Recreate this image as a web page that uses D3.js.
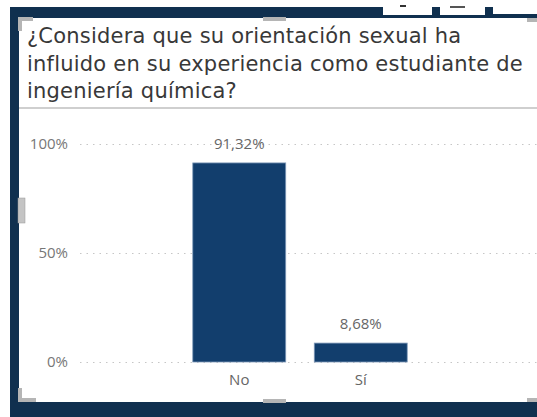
<!DOCTYPE html>
<html><head><meta charset="utf-8">
<script src="https://cdn.jsdelivr.net/npm/d3@7"></script>
<style>html,body{margin:0;padding:0;background:#fff;overflow:hidden}</style>
</head><body>
<svg id="c" width="537" height="417"></svg>
<script>
const titleLines = ["¿Considera que su orientación sexual ha", "influido en su experiencia como estudiante de", "ingeniería química?"];
const categories = ["No", "Sí"];
const values = [91.32, 8.68];
const valueLabels = ["91,32%", "8,68%"];
const yTicks = [0, 50, 100];
const yTickLabels = ["0%", "50%", "100%"];

const svg = d3.select("#c");
// background frame
svg.append("rect").attr("x",0).attr("y",0).attr("width",537).attr("height",417).attr("fill","#fff");
svg.append("rect").attr("x",10).attr("y",7).attr("width",527).attr("height",410).attr("fill","#10304f");
// top-right white toolbar pieces
svg.append("rect").attr("x",383).attr("y",0).attr("width",49).attr("height",15).attr("fill","#fff");
svg.append("rect").attr("x",440).attr("y",0).attr("width",45).attr("height",15).attr("fill","#fff");
svg.append("rect").attr("x",493).attr("y",0).attr("width",44).attr("height",14).attr("fill","#fff");
svg.append("rect").attr("x",400).attr("y",5).attr("width",6).attr("height",2).attr("fill","#333");
svg.append("rect").attr("x",450).attr("y",6).attr("width",15).attr("height",2).attr("fill","#555");
// panel
svg.append("rect").attr("x",19).attr("y",18).attr("width",518).attr("height",384).attr("fill","#fff");
// corner brackets / handles
svg.append("path").attr("d","M20,31 V19 H33").attr("fill","none").attr("stroke","#b5b5b5").attr("stroke-width",4);
svg.append("path").attr("d","M20,388 V400 H36").attr("fill","none").attr("stroke","#b5b5b5").attr("stroke-width",4);
svg.append("rect").attr("x",263).attr("y",17).attr("width",23).attr("height",4).attr("fill","#b5b5b5");
svg.append("rect").attr("x",263).attr("y",399).attr("width",23).attr("height",4).attr("fill","#b5b5b5");
svg.append("rect").attr("x",18).attr("y",198).attr("width",7).attr("height",25).attr("fill","#c4c4c4").attr("stroke","#999").attr("stroke-width",0.5);
svg.append("rect").attr("x",527).attr("y",18).attr("width",10).attr("height",4).attr("fill","#b5b5b5");
svg.append("rect").attr("x",527).attr("y",398).attr("width",10).attr("height",4).attr("fill","#b5b5b5");

// title
const title = svg.append("text").attr("fill","#383838")
  .style("font-family","'DejaVu Sans',sans-serif").style("font-size","21px");
const spans = titleLines.map((t,i)=>
  title.append("tspan").attr("x",27).attr("y",43+i*27.5).text(t));
// fit the longest line to the reference width
const w = spans[1].node().getComputedTextLength();
const ls = (496 - w) / titleLines[1].length;
title.style("letter-spacing", ls + "px");
svg.append("line").attr("x1",19).attr("x2",537).attr("y1",108).attr("y2",108).attr("stroke","#cfcfcf").attr("stroke-width",2);

// scales
const y = d3.scaleLinear().domain([0,100]).range([362,144]);
const x = d3.scaleBand().domain(categories).range([178.5,421.5]).paddingInner(0.235).paddingOuter(0.1175);

// gridlines
svg.append("g").selectAll("line").data(yTicks).join("line")
  .attr("x1",80).attr("x2",537).attr("y1",d=>y(d)+0.5).attr("y2",d=>y(d)+0.5)
  .attr("stroke","#c6c6c6").attr("stroke-width",1).attr("stroke-dasharray","1.5,5");

// y axis
const yAxis = d3.axisLeft(y).tickValues(yTicks).tickFormat((d,i)=>yTickLabels[i]).tickSize(0).tickPadding(0);
const gy = svg.append("g").attr("transform","translate(68,0)").call(yAxis);
gy.select(".domain").remove();
gy.selectAll("text").attr("fill","#777").style("font-family","'Open Sans',sans-serif").style("font-size","15px");

// bars
svg.append("g").selectAll("rect").data(values).join("rect")
  .attr("x",(d,i)=>x(categories[i])).attr("width",x.bandwidth())
  .attr("y",d=>y(d)).attr("height",d=>y(0)-y(d))
  .attr("fill","#123e6d").attr("stroke","#7f99b8").attr("stroke-width",0.8);

// value labels
svg.append("g").selectAll("text").data(values).join("text")
  .attr("x",(d,i)=>x(categories[i])+x.bandwidth()/2).attr("y",d=>y(d)-14)
  .attr("text-anchor","middle").attr("fill","#666")
  .style("font-family","'Open Sans',sans-serif").style("font-size","15px")
  .text((d,i)=>valueLabels[i]);

// x axis
const xAxis = d3.axisBottom(x).tickSize(0).tickPadding(0);
const gx = svg.append("g").attr("transform","translate(0,374)").call(xAxis);
gx.select(".domain").remove();
gx.selectAll("text").attr("fill","#666").style("font-family","'Open Sans',sans-serif").style("font-size","15px");
</script>
</body></html>
